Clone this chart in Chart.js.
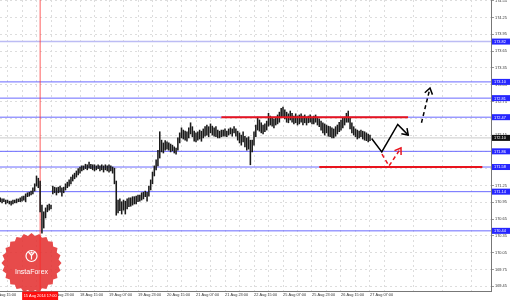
<!DOCTYPE html>
<html><head><meta charset="utf-8">
<script src="https://cdn.jsdelivr.net/npm/chart.js@4/dist/chart.umd.min.js"></script>
<style>html,body{margin:0;padding:0;background:#fff}canvas{display:block}</style>
</head><body>
<canvas id="c" width="510" height="300"></canvas>
<script>
// H1 bars; bar index 0 = 14 Aug 15:00, one time label every 16 bars
const timeLabels = ["14 Aug 15:00","15 Aug 07:00","15 Aug 23:00","18 Aug 15:00","19 Aug 07:00","19 Aug 23:00","20 Aug 15:00","21 Aug 07:00","21 Aug 23:00","22 Aug 15:00","25 Aug 07:00","25 Aug 23:00","26 Aug 15:00","27 Aug 07:00"];
const firstBar = 4;
const highs = [
171.03,171.01,171.01,170.99,170.99,170.97,170.97,170.99,170.99,171.01,
171.01,171.03,171.05,171.06,171.10,171.12,171.13,171.15,171.21,171.28,
171.42,171.38,171.33,170.90,170.78,170.85,170.90,170.92,170.90,
171.24,171.22,171.21,171.22,171.24,171.21,171.22,171.28,171.31,171.35,
171.40,171.44,171.47,171.51,171.55,171.58,171.60,171.60,171.63,171.62,
171.67,171.63,171.62,171.62,171.60,171.62,171.60,171.62,171.60,171.62,
171.60,171.62,171.60,171.58,171.56,171.33,170.99,171.01,170.96,170.99,
170.97,171.01,171.03,171.03,171.05,171.05,171.06,171.08,171.08,171.12,
171.13,171.15,171.13,171.24,171.35,171.49,171.60,171.71,171.88,172.21,
172.06,172.01,172.05,172.03,172.01,171.99,171.97,171.94,171.92,172.10,
172.19,172.28,172.24,172.22,172.21,172.28,172.37,172.30,172.22,172.19,
172.21,172.24,172.22,172.26,172.30,172.33,172.30,172.35,172.31,172.28,
172.30,172.24,172.22,172.24,172.24,172.26,172.22,172.26,172.28,172.26,
172.30,172.26,172.22,172.19,172.15,172.21,172.13,172.10,172.12,172.06,
172.06,172.21,172.33,172.47,172.42,172.37,172.33,172.35,172.40,172.54,
172.49,172.46,172.44,172.47,172.51,172.56,172.63,172.65,172.60,172.56,
172.53,172.58,172.54,172.49,172.53,172.49,172.51,172.53,172.49,172.51,
172.47,172.49,172.51,172.47,172.49,172.51,172.47,172.44,172.40,172.37,
172.35,172.33,172.31,172.30,172.28,172.26,172.30,172.33,172.38,172.42,
172.46,172.47,172.54,172.58,172.46,172.37,172.30,172.26,172.24,172.22,
172.24,172.22,172.21,172.19,172.17,172.15];
const lows = [
170.96,170.94,170.96,170.92,170.94,170.92,170.90,170.92,170.94,170.94,
170.96,170.96,170.97,170.99,170.96,171.05,171.06,171.08,171.10,171.15,
171.24,171.21,170.78,170.40,170.49,170.67,170.78,170.81,170.83,
171.10,171.12,171.08,171.12,171.13,171.06,171.12,171.17,171.21,171.24,
171.28,171.33,171.37,171.40,171.44,171.47,171.51,171.53,171.55,171.53,
171.56,171.55,171.53,171.51,171.53,171.55,171.51,171.53,171.49,171.53,
171.51,171.49,171.51,171.47,171.28,170.72,170.76,170.80,170.74,170.81,
170.74,170.83,170.87,170.88,170.90,170.92,170.92,170.96,170.97,170.99,
171.01,171.05,170.97,171.06,171.17,171.28,171.42,171.53,171.60,171.74,
171.85,171.83,171.88,171.90,171.88,171.85,171.87,171.83,171.81,171.88,
172.01,172.10,172.08,172.06,172.04,172.10,172.17,172.12,172.04,172.03,
172.06,172.08,172.04,172.10,172.13,172.15,172.12,172.19,172.15,172.13,
172.12,172.10,172.10,172.12,172.13,172.13,172.12,172.15,172.17,172.13,
172.19,172.13,172.06,172.01,171.97,172.03,171.94,171.88,171.90,171.62,
171.85,171.97,172.12,172.24,172.22,172.19,172.17,172.21,172.24,172.31,
172.33,172.31,172.28,172.33,172.35,172.38,172.46,172.47,172.44,172.38,
172.37,172.42,172.38,172.35,172.37,172.33,172.35,172.38,172.33,172.37,
172.33,172.37,172.38,172.35,172.35,172.38,172.33,172.30,172.24,172.19,
172.15,172.19,172.13,172.12,172.10,172.10,172.13,172.17,172.21,172.24,
172.28,172.33,172.38,172.38,172.26,172.19,172.15,172.12,172.08,172.10,
172.12,172.08,172.06,172.05,172.03,172.05];
const lastPrice = 172.10;
const levels = [173.82, 173.10, 172.81, 172.47, 171.86, 171.58, 171.14, 170.44];
const yTicks = [174.55,174.25,173.95,173.65,173.35,173.05,172.75,172.45,172.15,171.85,171.55,171.25,170.95,170.65,170.35,170.05,169.75,169.45];
const redSegStart = [126, 180];
const redSegEnd = [229, 270];
const redSegLevel = [172.47, 171.58];
const markerBar = 26;
const markerLabel = "15 Aug 2014 17:00";
const forecastX = [208.9, 214.5, 223.3, 229.1];
const forecastY = [172.09, 171.85, 172.34, 172.15];
const altX = [214.6, 218.5, 225.1];
const altY = [171.81, 171.60, 171.92];
const targetX = [236.4, 241.1];
const targetY = [172.37, 172.99];

const X_MIN = 3.86, X_MAX = 274.76, Y_MIN = 169.366, Y_MAX = 174.5625;
const FONT = '"Liberation Sans", Arial, sans-serif';

const pts = (xs, ys) => xs.map((x, k) => ({x, y: ys[k]}));
const datasets = [];
datasets.push({type:'bar', data: highs.map((h,k)=>({x: firstBar + k, y: [lows[k], h]})),
  backgroundColor:'#1a1a1a', borderWidth:0, barThickness:0.9, order:4});
levels.forEach((v,k)=>datasets.push({type:'line', data:[{x:X_MIN,y:v},{x:X_MAX,y:v}],
  borderColor: k===0 ? '#bcbcf4' : '#6a6aff', borderWidth: k===0 ? 1.5 : 1, pointRadius:0, order:7}));
datasets.push({type:'line', data:[{x:X_MIN,y:lastPrice},{x:X_MAX,y:lastPrice}], borderColor:'#cacaca', borderWidth:1, pointRadius:0, order:8});
datasets.push({type:'line', data:[{x:markerBar,y:Y_MIN},{x:markerBar,y:Y_MAX}], borderColor:'rgba(255,40,40,0.75)', borderWidth:1, pointRadius:0, order:5});
redSegStart.forEach((s,k)=>datasets.push({type:'line', data:[{x:s,y:redSegLevel[k]},{x:redSegEnd[k],y:redSegLevel[k]}],
  borderColor:'#e8141e', borderWidth:2, pointRadius:0, order:3}));
datasets.push({type:'line', data:pts(forecastX, forecastY), borderColor:'#000', borderWidth:1.5, pointRadius:0, order:1, arrowHead:true});
datasets.push({type:'line', data:pts(altX, altY), borderColor:'#e8141e', borderWidth:1.5, borderDash:[4,3], pointRadius:0, order:2, arrowHead:true});
datasets.push({type:'line', data:pts(targetX, targetY), borderColor:'#000', borderWidth:1.5, borderDash:[4,3], pointRadius:0, order:1, arrowHead:true});

const badgePlugin = {
  id:'badge',
  beforeDatasetsDraw(chart){
    const ctx = chart.ctx, ca = chart.chartArea;
    const cx = 31.5, cy = 263, ro = 30, ri = 27.3, n = 24;
    ctx.save();
    ctx.beginPath(); ctx.rect(ca.left, ca.top, ca.right-ca.left, ca.bottom-ca.top); ctx.clip();
    ctx.beginPath();
    for (let k=0;k<2*n;k++){ const r = k%2 ? ri : ro; const a = k*Math.PI/n - Math.PI/2;
      const px = cx + r*Math.cos(a), py = cy + r*Math.sin(a); if(k===0) ctx.moveTo(px,py); else ctx.lineTo(px,py); }
    ctx.closePath(); ctx.fillStyle='rgba(228,50,50,0.88)'; ctx.fill();
    ctx.strokeStyle='#fff'; ctx.lineWidth=1.2;
    ctx.beginPath(); ctx.arc(cx, cy-7, 5.5, 0, Math.PI*2); ctx.stroke();
    ctx.beginPath(); ctx.moveTo(cx-3, cy-11); ctx.lineTo(cx, cy-7.5); ctx.lineTo(cx+3, cy-11);
    ctx.moveTo(cx, cy-7.5); ctx.lineTo(cx, cy-3.5); ctx.stroke();
    ctx.beginPath(); ctx.arc(cx, cy-10.5, 1.1, 0, Math.PI*2); ctx.fillStyle='#fff'; ctx.fill();
    ctx.font = '7px ' + FONT; ctx.textAlign='center'; ctx.textBaseline='middle';
    ctx.fillText('InstaForex', cx, cy+9);
    ctx.restore();
  }
};
const arrowPlugin = {
  id:'arrows',
  afterDatasetsDraw(chart){
    const ctx = chart.ctx;
    chart.data.datasets.forEach((ds,di)=>{
      if(!ds.arrowHead) return;
      const p = chart.getDatasetMeta(di).data;
      const a = p[p.length-2], b = p[p.length-1];
      const ang = Math.atan2(b.y-a.y, b.x-a.x), L = 7, w = 0.6;
      ctx.save(); ctx.strokeStyle = ds.borderColor; ctx.lineWidth = ds.borderWidth; ctx.setLineDash([]);
      ctx.beginPath();
      ctx.moveTo(b.x - L*Math.cos(ang-w), b.y - L*Math.sin(ang-w));
      ctx.lineTo(b.x, b.y);
      ctx.lineTo(b.x - L*Math.cos(ang+w), b.y - L*Math.sin(ang+w));
      ctx.stroke(); ctx.restore();
    });
  }
};
const labelPlugin = {
  id:'labels',
  afterDraw(chart){
    const ctx = chart.ctx, ys = chart.scales.y, xs = chart.scales.x, ca = chart.chartArea;
    ctx.save();
    ctx.font = '3.9px ' + FONT; ctx.textBaseline='middle'; ctx.textAlign='left';
    const box = (v, fill) => { const py = ys.getPixelForValue(v);
      ctx.fillStyle = fill; ctx.fillRect(ca.right+1, py-3, 18, 6);
      ctx.fillStyle = '#fff'; ctx.fillText(v.toFixed(2), ca.right+3, py+0.3); };
    levels.forEach(v=>box(v,'#2626ff'));
    box(lastPrice, '#111');
    const mx = xs.getPixelForValue(markerBar);
    ctx.fillStyle = '#ff1010'; ctx.fillRect(mx-18, ca.bottom+0.5, 36, 9);
    ctx.fillStyle = '#fff'; ctx.textAlign='center'; ctx.fillText(markerLabel, mx, ca.bottom+4.8);
    ctx.restore();
  }
};

new Chart(document.getElementById('c'), {
  type:'bar',
  data:{datasets},
  options:{
    responsive:false, animation:false, devicePixelRatio:1,
    layout:{padding:0},
    plugins:{legend:{display:false}, tooltip:{enabled:false}},
    scales:{
      x:{type:'linear', min:X_MIN, max:X_MAX, offset:false,
        grid:{offset:false, color:'#dddddd', lineWidth:1, drawTicks:false},
        border:{display:true, color:'#777', width:1, dash:[2,3]},
        afterBuildTicks: s => { const t=[]; for(let v=0; v<=272; v+=8) t.push({value:v}); s.ticks=t; },
        afterFit: s => { s.height = 9; s.paddingLeft = 0; s.paddingRight = 0; },
        ticks:{autoSkip:false, maxRotation:0, minRotation:0, align:'start', padding:2,
          color:'#333', font:{size:3.9, family:FONT},
          callback: v => (v % 16 === 0 ? timeLabels[v/16] : '')}
      },
      y:{type:'linear', position:'right', min:Y_MIN, max:Y_MAX,
        grid:{color:'#dddddd', lineWidth:1, drawTicks:true, tickLength:3, tickColor:'#999'},
        border:{display:true, color:'#777', width:1, dash:[2,3]},
        afterBuildTicks: s => { s.ticks = yTicks.map(v=>({value:v})); },
        afterFit: s => { s.width = 19; s.paddingTop = 0; s.paddingBottom = 0; },
        ticks:{padding:1, color:'#333', font:{size:3.9, family:FONT}, callback: v => v.toFixed(2)}
      }
    }
  },
  plugins:[badgePlugin, arrowPlugin, labelPlugin]
});
</script>
</body></html>
